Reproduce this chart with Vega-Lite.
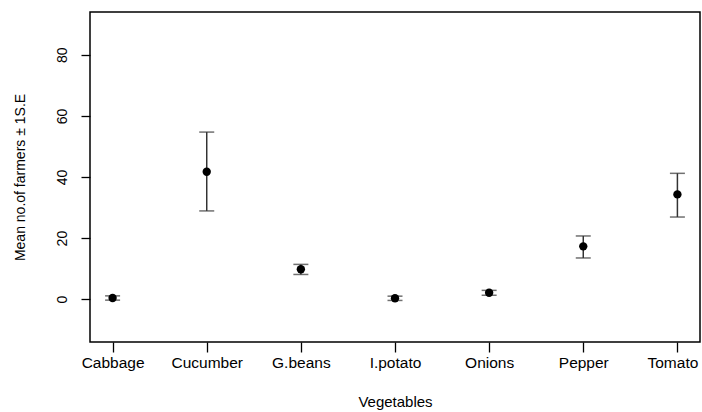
{
  "$schema": "https://vega.github.io/schema/vega-lite/v6.json",
  "width": 610,
  "height": 330,
  "autosize": "none",
  "padding": {"left": 90, "top": 12, "right": 2, "bottom": 70},
  "background": "white",
  "config": {
    "view": {"stroke": "#000", "strokeWidth": 1.5},
    "font": "Liberation Sans"
  },
  "data": {
    "values": [
      {"veg": "Cabbage", "mean": 0.4, "lo": -0.3, "hi": 1.1},
      {"veg": "Cucumber", "mean": 41.7, "lo": 28.9, "hi": 54.7},
      {"veg": "G.beans", "mean": 9.8, "lo": 8.1, "hi": 11.4},
      {"veg": "I.potato", "mean": 0.3, "lo": -0.4, "hi": 1.0},
      {"veg": "Onions", "mean": 2.1, "lo": 1.3, "hi": 2.9},
      {"veg": "Pepper", "mean": 17.3, "lo": 13.5, "hi": 20.7},
      {"veg": "Tomato", "mean": 34.3, "lo": 26.9, "hi": 41.2}
    ]
  },
  "encoding": {
    "x": {
      "field": "veg",
      "type": "nominal",
      "sort": null,
      "scale": {"type": "point", "padding": 0.24},
      "axis": {
        "title": "Vegetables",
        "labelAngle": 0,
        "labelFont": "Liberation Sans",
        "labelFontSize": 15.5,
        "labelColor": "#000",
        "labelPadding": 3,
        "labelOffset": {"condition": {"test": "datum.value === 'Tomato'", "value": -5}, "value": 0},
        "tickSize": 10,
        "tickColor": "#000",
        "tickWidth": 1.3,
        "domain": false,
        "grid": false,
        "titleFont": "Liberation Sans",
        "titleFontSize": 15,
        "titleFontWeight": "normal",
        "titleColor": "#000",
        "titlePadding": 24
      }
    }
  },
  "layer": [
    {
      "mark": {"type": "rule", "color": "#333", "strokeWidth": 1.5},
      "encoding": {
        "y": {
          "field": "lo",
          "type": "quantitative",
          "scale": {"domain": [-14, 94], "nice": false, "zero": false},
          "axis": {
            "title": "Mean no.of farmers ± 1S.E",
            "values": [0, 20, 40, 60, 80],
            "labelAngle": -90,
            "labelAlign": "center",
            "labelBaseline": "bottom",
            "labelFont": "Liberation Sans",
            "labelFontSize": 14,
            "labelColor": "#000",
            "labelPadding": 12,
            "tickSize": 9,
            "tickColor": "#000",
            "tickWidth": 1.3,
            "domain": false,
            "grid": false,
            "titleFont": "Liberation Sans",
            "titleFontSize": 14,
            "titleFontWeight": "normal",
            "titleColor": "#000",
            "titlePadding": 28
          }
        },
        "y2": {"field": "hi"}
      }
    },
    {
      "mark": {"type": "tick", "color": "#333", "size": 15, "thickness": 1.5, "orient": "horizontal"},
      "encoding": {"y": {"field": "lo", "type": "quantitative"}}
    },
    {
      "mark": {"type": "tick", "color": "#333", "size": 15, "thickness": 1.5, "orient": "horizontal"},
      "encoding": {"y": {"field": "hi", "type": "quantitative"}}
    },
    {
      "mark": {"type": "point", "shape": "circle", "filled": true, "color": "#000", "size": 70, "opacity": 1},
      "encoding": {"y": {"field": "mean", "type": "quantitative"}}
    }
  ]
}
